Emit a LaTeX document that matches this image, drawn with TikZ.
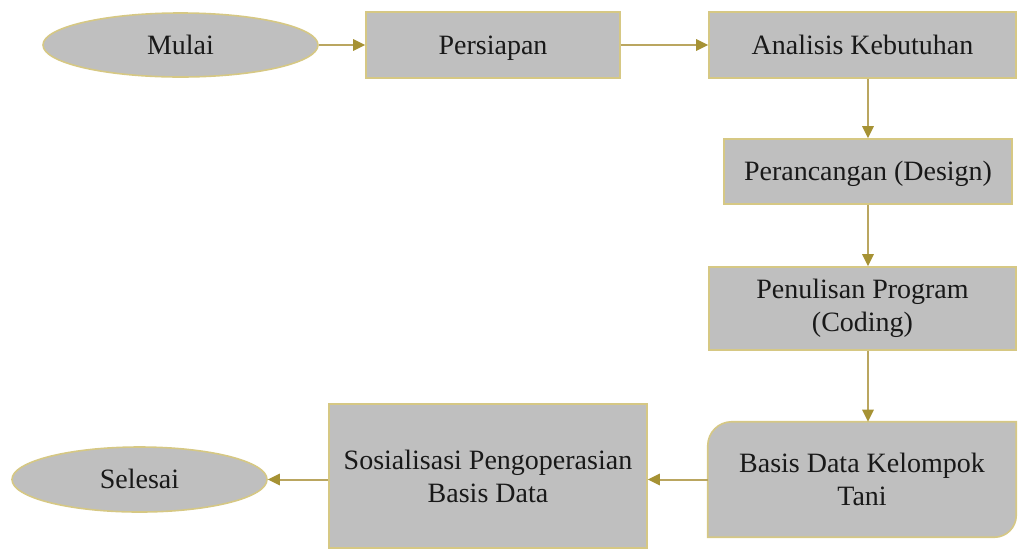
\documentclass[tikz,border=0pt]{standalone}
\usepackage{fontspec}
\setmainfont{Liberation Serif}
\usetikzlibrary{shapes.geometric,arrows.meta}
\definecolor{boxfill}{RGB}{191,191,191}
\definecolor{boxedge}{RGB}{214,200,132}
\definecolor{arrline}{RGB}{186,166,96}
\definecolor{arrhead}{RGB}{166,146,52}
\definecolor{txt}{RGB}{25,25,25}
\tikzset{
  base/.style={fill=boxfill, draw=boxedge, line width=1.2pt, text=txt,
    font=\fontsize{21pt}{24.75pt}\selectfont, align=center, inner sep=0pt},
  stepbox/.style={base, rectangle},
  oneline/.style={text height=14pt, text depth=0pt},
  oval/.style={base, ellipse},
  plain/.style={fill=none, draw=none, text=txt,
    font=\fontsize{21pt}{24.75pt}\selectfont, align=center, inner sep=0pt},
  arr/.style={draw=arrline, line width=1.5pt,
    -{Triangle[length=9pt,width=8.5pt,fill=arrhead,color=arrhead]}}
}
\begin{document}
\begin{tikzpicture}[x=0.75pt,y=-0.75pt]
\useasboundingbox (0,0) rectangle (1019,551);
% nodes
\node[oval, oneline, minimum width=206.25pt, minimum height=48pt] (mulai) at (180.5,45) {Mulai};
\node[stepbox, oneline, minimum width=190.5pt, minimum height=49.5pt] (persiapan) at (493,45) {Persiapan};
\node[stepbox, oneline, minimum width=230.25pt, minimum height=49.5pt] (analisis) at (862.5,45) {Analisis Kebutuhan};
\node[stepbox, oneline, minimum width=216pt, minimum height=48.75pt] (design) at (868,171.5) {Perancangan (Design)};
\node[stepbox, minimum width=230.25pt, minimum height=62.25pt] (coding) at (862.5,308.5) {Penulisan Program\\(Coding)};
\node[plain, minimum width=231pt, minimum height=86.25pt] (basis) at (862,479.5) {};
\fill[boxfill, draw=boxedge, line width=1.2pt]
  (basis.south west) -- ([yshift=-18pt]basis.north west)
  arc[start angle=180, end angle=90, radius=18pt]
  -- (basis.north east) -- ([yshift=16.5pt]basis.south east)
  arc[start angle=0, end angle=-90, radius=16.5pt] -- cycle;
\node[plain] at (basis.center) {Basis Data Kelompok\\Tani};
\node[stepbox, minimum width=238.5pt, minimum height=108pt] (sosial) at (488,476) {Sosialisasi Pengoperasian\\Basis Data};
\node[oval, oneline, minimum width=191.25pt, minimum height=48.75pt] (selesai) at (139.5,479.5) {Selesai};
% connectors
\draw[arr] (mulai.east) -- (persiapan.west);
\draw[arr] (persiapan.east) -- (analisis.west);
\draw[arr] (analisis.south -| design.north) -- (design.north);
\draw[arr] (design.south) -- (coding.north -| design.south);
\draw[arr] (coding.south -| design.south) -- (basis.north -| design.south);
\draw[arr] (basis.west) -- (basis.west -| sosial.east);
\draw[arr] (basis.west -| sosial.west) -- (basis.west -| selesai.east);
\end{tikzpicture}
\end{document}
